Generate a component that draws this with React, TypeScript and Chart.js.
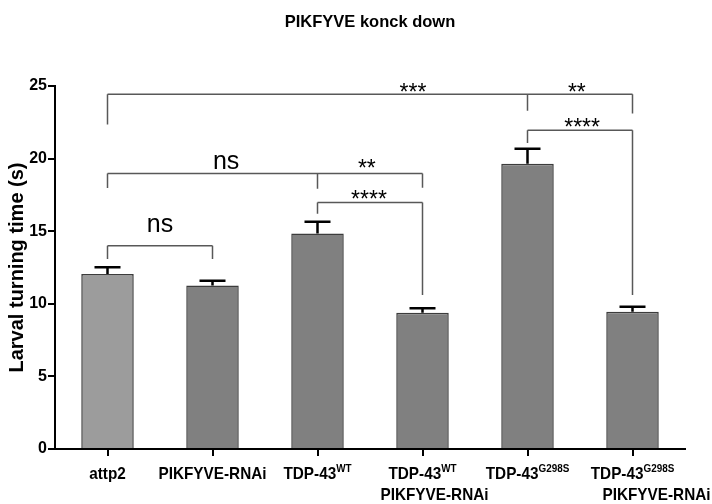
import React, { useEffect, useRef } from 'react';
import { Chart, registerables } from 'chart.js';

Chart.register(...registerables);

// ---- data ----
const labelMain = ['attp2', 'PIKFYVE-RNAi', 'TDP-43', 'TDP-43', 'TDP-43', 'TDP-43'];
const labelSup = ['', '', 'WT', 'WT', 'G298S', 'G298S'];
const labelLine2 = ['', '', '', 'PIKFYVE-RNAi', '', 'PIKFYVE-RNAi'];
const meanValues = [12.05, 11.26, 14.85, 9.38, 19.65, 9.45];
const semValues = [0.47, 0.32, 0.8, 0.32, 1.03, 0.34];
const yTickValues = [0, 5, 10, 15, 20, 25];

// significance brackets: category indices, bar level, leg end levels
const bracketXs = [[0, 1], [0, 2, 3], [2, 3], [0, 4, 5], [4, 5]];
const bracketY = [14.0, 18.97, 16.97, 24.43, 21.95];
const bracketLegEnds = [[13.08, 13.08], [17.98, 17.93, 18.0], [16.2, 10.6], [22.35, 23.3, 23.1], [21.08, 10.6]];

// significance labels: text, category position, level of glyph centre
const sigText = ['ns', 'ns', '**', '****', '***', '**', '****'];
const sigX = [0.5, 1.13, 2.47, 2.49, 2.91, 4.47, 4.52];
const sigY = [15.38, 19.72, 19.74, 17.61, 24.92, 24.92, 22.57];

const FONT = '"Liberation Sans", Arial, Helvetica, sans-serif';
const barColors = ['#9c9c9c', '#808080', '#808080', '#808080', '#808080', '#808080'];
const line2Offset = [0, 0, 0, 12, 0, 24];
const CONDENSE = 0.9;

const annotPlugin = {
  id: 'annot',
  afterDatasetsDraw(chart: any) {
    const { ctx, scales } = chart;
    const x = scales.x;
    const y = scales.y;
    ctx.save();
    // error bars
    ctx.strokeStyle = '#000';
    ctx.lineWidth = 2.5;
    meanValues.forEach((m, i) => {
      const px = x.getPixelForValue(i);
      const y0 = y.getPixelForValue(m);
      const y1 = y.getPixelForValue(m + semValues[i]);
      ctx.beginPath();
      ctx.moveTo(px, y0);
      ctx.lineTo(px, y1);
      ctx.moveTo(px - 13, y1);
      ctx.lineTo(px + 13, y1);
      ctx.stroke();
    });
    // brackets
    ctx.strokeStyle = '#585858';
    ctx.lineWidth = 1.5;
    bracketXs.forEach((xs, b) => {
      const py = y.getPixelForValue(bracketY[b]);
      ctx.beginPath();
      ctx.moveTo(x.getPixelForValue(xs[0]), py);
      ctx.lineTo(x.getPixelForValue(xs[xs.length - 1]), py);
      xs.forEach((xi, k) => {
        const px = x.getPixelForValue(xi);
        ctx.moveTo(px, py);
        ctx.lineTo(px, y.getPixelForValue(bracketLegEnds[b][k]));
      });
      ctx.stroke();
    });
    // significance labels
    ctx.fillStyle = '#000';
    ctx.textAlign = 'center';
    ctx.textBaseline = 'alphabetic';
    sigText.forEach((t, i) => {
      const isStar = t.indexOf('*') >= 0;
      const size = isStar ? 23 : 25;
      ctx.font = `${size}px ${FONT}`;
      const px = x.getPixelForValue(0) + sigX[i] * (x.getPixelForValue(1) - x.getPixelForValue(0));
      const py = y.getPixelForValue(sigY[i]);
      const base = isStar ? py + 0.575 * size : py + 0.26 * size;
      ctx.fillText(t, px, base);
    });
    ctx.restore();
  },
  afterDraw(chart: any) {
    const { ctx, scales, chartArea } = chart;
    const x = scales.x;
    ctx.save();
    ctx.fillStyle = '#000';
    ctx.textBaseline = 'alphabetic';
    // title
    ctx.font = `bold 16.5px ${FONT}`;
    ctx.textAlign = 'center';
    ctx.fillText('PIKFYVE konck down', (chartArea.left + chartArea.right) / 2, 27);
    // y title
    ctx.save();
    ctx.translate(23, (chartArea.top + chartArea.bottom) / 2);
    ctx.rotate(-Math.PI / 2);
    ctx.font = `bold 20px ${FONT}`;
    ctx.textAlign = 'center';
    ctx.fillText('Larval turning time (s)', 0, 0);
    ctx.restore();
    // x labels (slightly condensed)
    labelMain.forEach((main, i) => {
      const px = x.getPixelForValue(i);
      ctx.save();
      ctx.translate(px, 0);
      ctx.scale(CONDENSE, 1);
      ctx.font = `bold 17px ${FONT}`;
      const wMain = ctx.measureText(main).width;
      ctx.font = `bold 11px ${FONT}`;
      const wSup = labelSup[i] ? ctx.measureText(labelSup[i]).width : 0;
      const start = -(wMain + wSup) / 2;
      ctx.textAlign = 'left';
      ctx.font = `bold 17px ${FONT}`;
      ctx.fillText(main, start, 479);
      if (labelSup[i]) {
        ctx.font = `bold 11px ${FONT}`;
        ctx.fillText(labelSup[i], start + wMain, 472);
      }
      if (labelLine2[i]) {
        ctx.font = `bold 17px ${FONT}`;
        ctx.textAlign = 'center';
        ctx.fillText(labelLine2[i], line2Offset[i] / CONDENSE, 500);
      }
      ctx.restore();
    });
    ctx.restore();
  },
};

export default function App() {
  const ref = useRef<HTMLCanvasElement>(null);
  useEffect(() => {
    document.body.style.margin = '0';
    const canvas = ref.current!;
    const chart = new Chart(canvas, {
      type: 'bar',
      data: {
        labels: labelMain.map((m, i) => m + labelSup[i]),
        datasets: [
          {
            data: meanValues,
            backgroundColor: barColors,
            borderColor: '#3c3c3c',
            borderWidth: 1.5,
            barPercentage: 0.5,
            categoryPercentage: 1,
          },
        ],
      },
      options: {
        animation: false,
        responsive: false,
        layout: { padding: { top: 86, right: 27, left: 0, bottom: 0 } },
        plugins: { legend: { display: false }, tooltip: { enabled: false }, title: { display: false } },
        scales: {
          x: {
            grid: { display: true, drawOnChartArea: false, drawTicks: true, tickLength: 7, color: '#000', lineWidth: 2, offset: false },
            border: { display: true, color: '#000', width: 2 },
            ticks: { display: false },
            afterFit: (s: any) => { s.height = 55; },
          },
          y: {
            min: 0,
            max: 25,
            afterBuildTicks: (s: any) => { s.ticks = yTickValues.map((v) => ({ value: v })); },
            grid: { display: true, drawOnChartArea: false, drawTicks: true, tickLength: 7, color: '#000', lineWidth: 2 },
            border: { display: true, color: '#000', width: 2 },
            ticks: { color: '#000', padding: 1, font: { family: FONT, size: 16, weight: 'bold' } },
            afterFit: (s: any) => { s.width = 55; },
          },
        },
      },
      plugins: [annotPlugin],
    } as any);
    return () => chart.destroy();
  }, []);
  return (
    <div style={{ width: 712, height: 504 }}>
      <canvas ref={ref} width={712} height={504} style={{ display: 'block' }} />
    </div>
  );
}
